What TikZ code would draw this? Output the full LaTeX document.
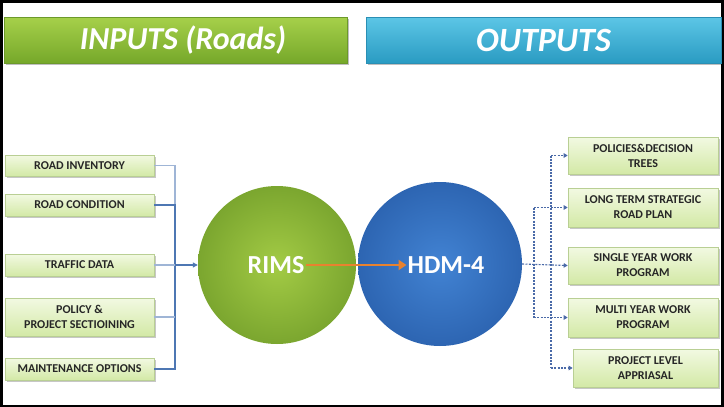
\documentclass[tikz,border=0pt]{standalone}
\usepackage{fontspec}
\setmainfont{Carlito}
\usetikzlibrary{shadows,arrows.meta,calc}
\definecolor{frameblack}{HTML}{000000}
\definecolor{hgreenT}{HTML}{A6D04A}
\definecolor{hgreenB}{HTML}{76A82A}
\definecolor{hgreenD}{HTML}{6C9A2A}
\definecolor{hblueT}{HTML}{5CC6E6}
\definecolor{hblueB}{HTML}{2A9BC2}
\definecolor{hblueD}{HTML}{2A8FB4}
\definecolor{boxT}{HTML}{F2F9E2}
\definecolor{boxB}{HTML}{D3E9A6}
\definecolor{boxD}{HTML}{B9CF94}
\definecolor{rimsIn}{HTML}{A3CB45}
\definecolor{rimsOut}{HTML}{7BA62F}
\definecolor{hdmIn}{HTML}{4283D3}
\definecolor{hdmOut}{HTML}{2D65B2}
\definecolor{connDark}{HTML}{4E77B3}
\definecolor{connLight}{HTML}{9FB5D6}
\definecolor{dashBlue}{HTML}{4A6AA8}
\definecolor{orangeArr}{HTML}{E8822F}
\definecolor{txtDark}{HTML}{262626}
\tikzset{
  header/.style={draw=#1, line width=0.6pt, minimum height=46pt, inner sep=0pt,
    font=\fontsize{32}{34}\selectfont\bfseries\itshape, text=white,
    drop shadow={shadow xshift=1.5pt, shadow yshift=-1.5pt, fill=black, opacity=0.25}},
  inbox/.style={draw=boxD, line width=0.6pt, top color=boxT, bottom color=boxB,
    minimum width=149pt, inner sep=0pt, align=center, text=txtDark,
    font=\fontsize{12}{15}\selectfont\bfseries,
    drop shadow={shadow xshift=1.5pt, shadow yshift=-1.5pt, fill=black, opacity=0.22}},
  ball/.style={circle, inner sep=0pt, text=white, font=\fontsize{26}{28}\selectfont\bfseries},
  inline/.style={line width=1.1pt, draw=#1},
  outline/.style={line width=1.1pt, draw=dashBlue, dash pattern=on 2pt off 1.3pt},
  outarrow/.style={outline, -{Triangle[length=4pt,width=4.5pt]}},
}
\begin{document}
\begin{tikzpicture}[x=1pt,y=-1pt]
\useasboundingbox (0,0) rectangle (724,407);
\fill[frameblack] (0,0) rectangle (724,407);
\fill[white] (3,2.5) rectangle (721,405);
% headers
\node[header=hgreenD, top color=hgreenT, bottom color=hgreenB, minimum width=343pt] (hin) at (175.5,40) {\hspace*{15pt}INPUTS (Roads)};
\node[header=hblueD, top color=hblueT, bottom color=hblueB, minimum width=355pt] (hout) at (543.5,40) {\fontsize{34}{36}\selectfont OUTPUTS};
% input boxes
\node[inbox, minimum height=21pt] (inv) at (79.5,165.5) {ROAD INVENTORY};
\node[inbox, minimum height=22pt] (cond) at (79.5,205) {ROAD CONDITION};
\node[inbox, minimum height=22pt] (traf) at (79.5,265) {TRAFFIC DATA};
\node[inbox, minimum height=38pt] (pol) at (79.5,317) {POLICY \&\\PROJECT SECTIOINING};
\node[inbox, minimum height=22pt] (maint) at (79.5,369) {MAINTENANCE OPTIONS};
% circles
\node[ball, minimum size=158pt, shading=radial, inner color=rimsIn, outer color=rimsOut] (rims) at (277,265) {};
\node[ball, minimum size=164pt, shading=radial, inner color=hdmIn, outer color=hdmOut] (hdm) at (440,264) {};
\node[ball] (rimst) at (276,265) {RIMS};
\node[ball] (hdmt) at (446,265) {HDM-4};
\draw[orangeArr, line width=2.8pt, -{Triangle[length=8pt,width=10pt]}] (rimst.east) -- (hdmt.west);
% output boxes
\node[inbox, minimum width=150pt, minimum height=37pt] (o1) at (643,155.5) {POLICIES\&DECISION\\TREES};
\node[inbox, minimum width=150pt, minimum height=39pt] (o2) at (643,207.5) {LONG TERM STRATEGIC\\ROAD PLAN};
\node[inbox, minimum width=150pt, minimum height=37pt] (o3) at (643,265.5) {SINGLE YEAR WORK\\PROGRAM};
\node[inbox, minimum width=150pt, minimum height=39pt] (o4) at (643,317.5) {MULTI YEAR WORK\\PROGRAM};
\node[inbox, minimum width=145pt, minimum height=38pt] (o5) at (645.5,368) {PROJECT LEVEL\\APPRIASAL};
% input connectors
\coordinate (bus) at (175,0);
\draw[inline=connLight] (inv.east) -- (bus |- inv.east) -- (bus |- cond.east);
\draw[inline=connDark] (cond.east) -- (bus |- cond.east) -- (bus |- maint.east) -- (maint.east);
\draw[inline=connLight] (traf.east) -- (bus |- traf.east);
\draw[inline=connLight] (pol.east) -- (bus |- pol.east);
\draw[inline=connDark, -{Triangle[length=5pt,width=5pt]}] (bus |- rims.west) -- (rims.west);
% output connectors
\coordinate (va) at (551,0);
\coordinate (vb) at (534,0);
\draw[outarrow] (hdm.east) -- (o3.west);
\draw[outline] (va |- o1.west) -- (va |- o5.west);
\draw[outline] (vb |- o2.west) -- (vb |- o4.west);
\draw[outarrow] (va |- o1.west) -- (o1.west);
\draw[outarrow] (vb |- o2.west) -- (o2.west);
\draw[outarrow] (vb |- o4.west) -- (o4.west);
\draw[outarrow] (va |- o5.west) -- (o5.west);
\end{tikzpicture}
\end{document}
